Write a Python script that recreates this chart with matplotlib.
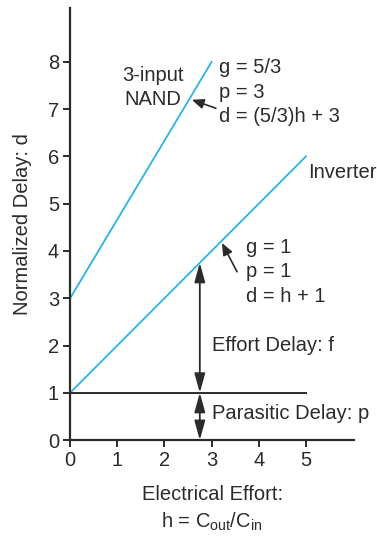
import matplotlib.pyplot as plt

plt.rcParams["font.family"] = ["Liberation Sans", "DejaVu Sans"]

# data
inv_h = [0, 5]
inv_d = [1, 6]
nand_h = [0, 3]
nand_d = [3, 8]
par_h = [0, 5]
par_d = [1, 1]
arrow_h = 2.75
arrow_top = 3.75
xticks = [0, 1, 2, 3, 4, 5]
yticks = [0, 1, 2, 3, 4, 5, 6, 7, 8]

blue = "#2bb3ea"
ink = "#2b2b2b"
fs = 14.5


def plot_graph():
    fig = plt.figure(figsize=(3.77, 5.36), dpi=100)
    ax = fig.add_axes([0.186, 0.179, 0.753, 0.806])

    ax.plot(inv_h, inv_d, color=blue, lw=1.3)
    ax.plot(nand_h, nand_d, color=blue, lw=1.3)
    ax.plot(par_h, par_d, color=ink, lw=1.4)

    ax.set_xlim(0, 6.02)
    ax.set_ylim(0, 9.14)
    ax.set_xticks(xticks)
    ax.set_yticks(yticks)
    for s in ["top", "right"]:
        ax.spines[s].set_visible(False)
    for s in ["left", "bottom"]:
        ax.spines[s].set_linewidth(1.6)
        ax.spines[s].set_color(ink)
    ax.tick_params(direction="out", length=5, width=1.4, color=ink,
                   labelsize=fs, labelcolor=ink, pad=3)

    ax.set_ylabel("Normalized Delay: d", fontsize=fs, color=ink, labelpad=11)
    ax.set_xlabel("Electrical Effort:\nh = C$_{\\mathregular{out}}$/C$_{\\mathregular{in}}$",
                  fontsize=fs, color=ink, labelpad=11, linespacing=1.35)

    # double arrows
    ap = dict(arrowstyle="<|-|>,head_length=0.9,head_width=0.25", color=ink,
              lw=1.3, mutation_scale=13, shrinkA=0, shrinkB=0)
    ax.annotate("", xy=(arrow_h, arrow_top), xytext=(arrow_h, 1), arrowprops=ap)
    ax.annotate("", xy=(arrow_h, 1), xytext=(arrow_h, 0), arrowprops=ap)

    tk = dict(fontsize=fs, color=ink)
    ax.text(3.0, 2.0, "Effort Delay: f", va="center", ha="left", **tk)
    ax.text(3.0, 0.57, "Parasitic Delay: p", va="center", ha="left", **tk)
    ax.text(5.04, 5.67, "Inverter", va="center", ha="left", **tk)
    ax.text(1.76, 7.46, "3-input\nNAND", va="center", ha="center",
            linespacing=1.35, **tk)
    ax.text(3.16, 7.36, "g = 5/3\np = 3\nd = (5/3)h + 3", va="center",
            ha="left", linespacing=1.35, **tk)
    ax.text(3.73, 3.56, "g = 1\np = 1\nd = h + 1", va="center",
            ha="left", linespacing=1.35, **tk)

    sp = dict(arrowstyle="-|>,head_length=0.6,head_width=0.25", color=ink,
              lw=1.2, mutation_scale=12, shrinkA=0, shrinkB=0)
    ax.annotate("", xy=(2.58, 7.2), xytext=(3.09, 7.02), arrowprops=sp)
    ax.annotate("", xy=(3.22, 4.17), xytext=(3.54, 3.56), arrowprops=sp)

    plt.savefig("out.png", dpi=100)


if __name__ == "__main__":
    plot_graph()
